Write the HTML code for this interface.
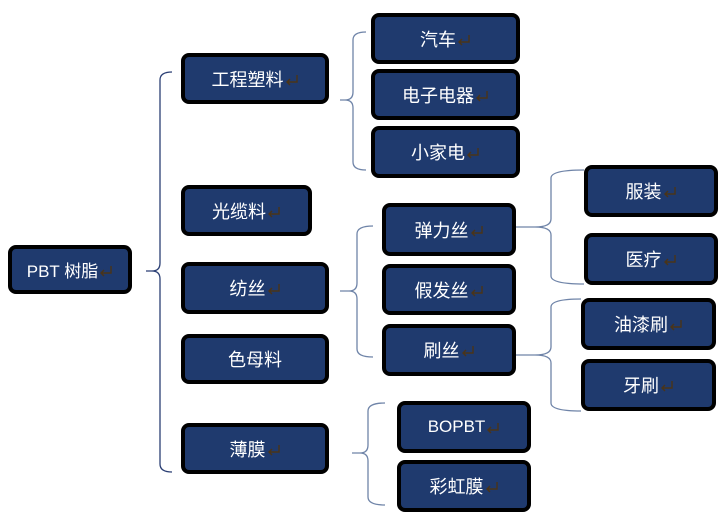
<!DOCTYPE html>
<html><head><meta charset="utf-8"><style>
html,body{margin:0;padding:0;background:#fff;}
body{width:727px;height:526px;position:relative;overflow:hidden;font-family:"Liberation Sans","Noto Sans CJK SC",sans-serif;}
.b{position:absolute;box-sizing:border-box;background:#1f3a6e;border:4px solid #000;border-radius:8px;color:#fff;font-size:18px;display:flex;align-items:center;justify-content:center;}
.b i{font-style:normal;display:inline-block;width:14px;height:12px;margin-left:1px;margin-top:2px;background:no-repeat;}
.b i svg{position:static;display:block;}
svg{position:absolute;left:0;top:0;}
</style></head><body>
<svg width="727" height="526" fill="none" stroke-width="1.3">
<g stroke="#2b3f74">
<path d="M172 72 Q160 72 160 80 L160 263 Q160 271 152 271 L146 271 M152 271 Q160 271 160 279 L160 464 Q160 472 172 472"/>
</g>
<g stroke="#6f84a8">
<path d="M366 32 Q353 32 353 40 L353 92 Q353 100 345 100 L340 100 M345 100 Q353 100 353 108 L353 162 Q353 170 366 170"/>
<path d="M373 226 Q357 226 357 234 L357 283 Q357 291 349 291 L340 291 M349 291 Q357 291 357 299 L357 349 Q357 357 373 357"/>
<path d="M385 403 Q368 403 368 411 L368 445 Q368 453 360 453 L352 453 M360 453 Q368 453 368 461 L368 497 Q368 505 385 505"/>
<path d="M584 170 Q551 170 551 178 L551 219 Q551 227 535 227 L516 227 M535 227 Q551 227 551 235 L551 276 Q551 284 584 284"/>
<path d="M581 299 Q551 299 551 307 L551 347 Q551 355 535 355 L516 355 M535 355 Q551 355 551 363 L551 403 Q551 411 581 411"/>
</g>
</svg>
<div class="b" style="left:8px;top:245px;width:124px;height:49px;font-size:17px">PBT 树脂<i><svg width="14" height="12"><path d="M12 1V8H2M5 5L2 8L5 11" stroke="#4a3418" stroke-width="1.4" fill="none"/></svg></i></div>
<div class="b" style="left:181px;top:53px;width:148px;height:51px">工程塑料<i><svg width="14" height="12"><path d="M12 1V8H2M5 5L2 8L5 11" stroke="#4a3418" stroke-width="1.4" fill="none"/></svg></i></div>
<div class="b" style="left:181px;top:185px;width:131px;height:51px">光缆料<i><svg width="14" height="12"><path d="M12 1V8H2M5 5L2 8L5 11" stroke="#4a3418" stroke-width="1.4" fill="none"/></svg></i></div>
<div class="b" style="left:181px;top:262px;width:148px;height:52px">纺丝<i><svg width="14" height="12"><path d="M12 1V8H2M5 5L2 8L5 11" stroke="#4a3418" stroke-width="1.4" fill="none"/></svg></i></div>
<div class="b" style="left:181px;top:334px;width:148px;height:50px">色母料</div>
<div class="b" style="left:181px;top:423px;width:148px;height:51px">薄膜<i><svg width="14" height="12"><path d="M12 1V8H2M5 5L2 8L5 11" stroke="#4a3418" stroke-width="1.4" fill="none"/></svg></i></div>
<div class="b" style="left:371px;top:13px;width:149px;height:51px">汽车<i><svg width="14" height="12"><path d="M12 1V8H2M5 5L2 8L5 11" stroke="#4a3418" stroke-width="1.4" fill="none"/></svg></i></div>
<div class="b" style="left:371px;top:69px;width:149px;height:51px">电子电器<i><svg width="14" height="12"><path d="M12 1V8H2M5 5L2 8L5 11" stroke="#4a3418" stroke-width="1.4" fill="none"/></svg></i></div>
<div class="b" style="left:371px;top:126px;width:149px;height:52px">小家电<i><svg width="14" height="12"><path d="M12 1V8H2M5 5L2 8L5 11" stroke="#4a3418" stroke-width="1.4" fill="none"/></svg></i></div>
<div class="b" style="left:382px;top:203px;width:134px;height:53px">弹力丝<i><svg width="14" height="12"><path d="M12 1V8H2M5 5L2 8L5 11" stroke="#4a3418" stroke-width="1.4" fill="none"/></svg></i></div>
<div class="b" style="left:382px;top:264px;width:134px;height:51px">假发丝<i><svg width="14" height="12"><path d="M12 1V8H2M5 5L2 8L5 11" stroke="#4a3418" stroke-width="1.4" fill="none"/></svg></i></div>
<div class="b" style="left:382px;top:324px;width:134px;height:52px">刷丝<i><svg width="14" height="12"><path d="M12 1V8H2M5 5L2 8L5 11" stroke="#4a3418" stroke-width="1.4" fill="none"/></svg></i></div>
<div class="b" style="left:584px;top:165px;width:134px;height:52px">服装<i><svg width="14" height="12"><path d="M12 1V8H2M5 5L2 8L5 11" stroke="#4a3418" stroke-width="1.4" fill="none"/></svg></i></div>
<div class="b" style="left:584px;top:233px;width:134px;height:52px">医疗<i><svg width="14" height="12"><path d="M12 1V8H2M5 5L2 8L5 11" stroke="#4a3418" stroke-width="1.4" fill="none"/></svg></i></div>
<div class="b" style="left:581px;top:298px;width:135px;height:52px">油漆刷<i><svg width="14" height="12"><path d="M12 1V8H2M5 5L2 8L5 11" stroke="#4a3418" stroke-width="1.4" fill="none"/></svg></i></div>
<div class="b" style="left:581px;top:359px;width:135px;height:52px">牙刷<i><svg width="14" height="12"><path d="M12 1V8H2M5 5L2 8L5 11" stroke="#4a3418" stroke-width="1.4" fill="none"/></svg></i></div>
<div class="b" style="left:397px;top:401px;width:134px;height:52px;font-size:17px">BOPBT<i><svg width="14" height="12"><path d="M12 1V8H2M5 5L2 8L5 11" stroke="#4a3418" stroke-width="1.4" fill="none"/></svg></i></div>
<div class="b" style="left:397px;top:460px;width:134px;height:52px">彩虹膜<i><svg width="14" height="12"><path d="M12 1V8H2M5 5L2 8L5 11" stroke="#4a3418" stroke-width="1.4" fill="none"/></svg></i></div>
</body></html>
